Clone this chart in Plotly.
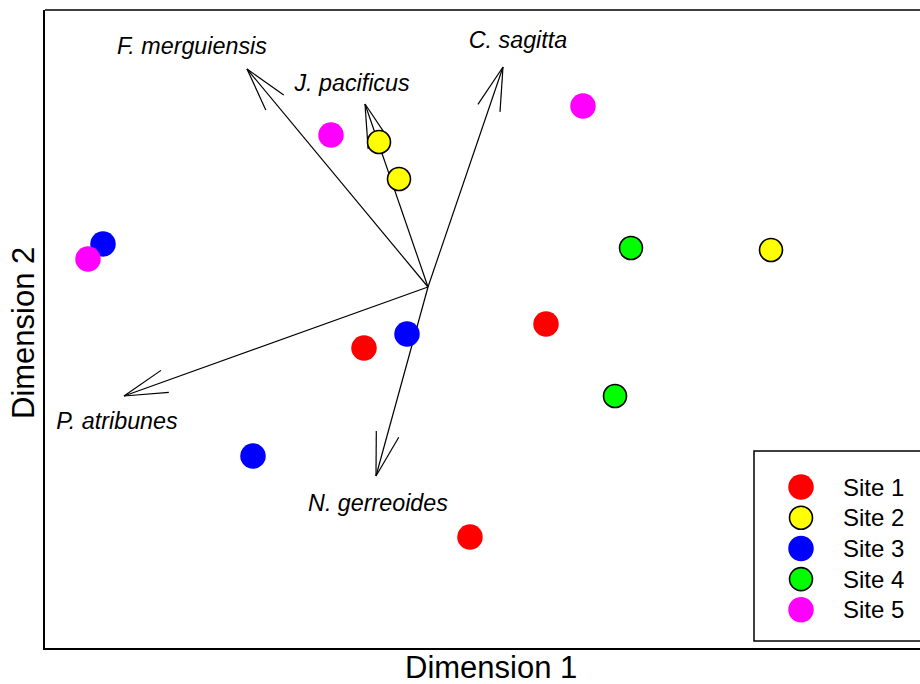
import numpy as np
import plotly.graph_objects as go

# ---- data (NMDS-like scores) ----
site_names = ["Site 1", "Site 2", "Site 3", "Site 4", "Site 5"]
site_colors = ["#ff0000", "#ffff00", "#0000ff", "#00ff00", "#ff00ff"]
site_outline = [False, True, False, True, False]

site1_x = [-0.32, 0.59, 0.21]
site1_y = [-0.305, -0.185, -1.25]
site2_x = [-0.245, -0.145, 1.715]
site2_y = [0.725, 0.54, 0.185]
site3_x = [-1.625, -0.105, -0.875]
site3_y = [0.215, -0.235, -0.845]
site4_x = [1.015, 0.935]
site4_y = [0.195, -0.545]
site5_x = [-0.485, -1.70, 0.775]
site5_y = [0.76, 0.14, 0.905]

species = ["F. merguiensis", "J. pacificus", "C. sagitta", "P. atribunes", "N. gerreoides"]
species_x = [-0.905, -0.315, 0.375, -1.52, -0.26]
species_y = [1.09, 0.915, 1.10, -0.545, -0.945]
label_x = [-1.18, -0.38, 0.45, -1.555, -0.25]
label_y = [1.195, 1.01, 1.225, -0.68, -1.09]

# ---- layout geometry ----
W, H = 920, 684
ML, MT, MB, MR = 45, 10, 36, 0
XR = [-1.915, 2.46]
YR = [-1.805, 1.385]

fig = go.Figure()

# arrows (shafts + open heads)
head_len = 0.225
head_ang = np.deg2rad(15)
ax, ay = [], []
for sx, sy in zip(species_x, species_y):
    ax += [0, sx, None]
    ay += [0, sy, None]
    ang = np.arctan2(-sy, -sx)
    for s in (1, -1):
        a = ang + s * head_ang
        ax += [sx, sx + head_len * np.cos(a), None]
        ay += [sy, sy + head_len * np.sin(a), None]
fig.add_trace(go.Scatter(x=ax, y=ay, mode="lines",
                         line=dict(color="black", width=1.2),
                         hoverinfo="skip", showlegend=False))

# species labels
fig.add_trace(go.Scatter(x=label_x, y=label_y, mode="text", text=species,
                         textfont=dict(family="Liberation Sans", size=23.3,
                                       color="black", style="italic"),
                         hoverinfo="skip", showlegend=False))

xs = [site1_x, site2_x, site3_x, site4_x, site5_x]
ys = [site1_y, site2_y, site3_y, site4_y, site5_y]

def marker_style(col, outline):
    if outline:
        return dict(size=23, color=col, line=dict(color="black", width=1.6))
    return dict(size=25.5, color=col, line=dict(width=0))

for name, col, ol, x, y in zip(site_names, site_colors, site_outline, xs, ys):
    fig.add_trace(go.Scatter(x=x, y=y, mode="markers", name=name,
                             marker=marker_style(col, ol), showlegend=False))

# manual legend (R-style box, cut off at the right edge)
leg_x0, leg_y0 = 1.63, -0.82
leg_bottom = -1.77
leg_mx = 1.865
leg_first = -1.0
leg_step = 0.1535
leg_tx = 2.065
fig.add_shape(type="rect", xref="x", yref="y", x0=leg_x0, x1=XR[1] + 0.5,
              y0=leg_bottom, y1=leg_y0, line=dict(color="black", width=1.5),
              fillcolor="white", layer="below")
for i, (name, col, ol) in enumerate(zip(site_names, site_colors, site_outline)):
    yy = leg_first - i * leg_step
    fig.add_trace(go.Scatter(x=[leg_mx], y=[yy], mode="markers",
                             marker=marker_style(col, ol),
                             hoverinfo="skip", showlegend=False))
    fig.add_annotation(x=leg_tx, y=yy, xref="x", yref="y", text=name,
                       showarrow=False, xanchor="left", yanchor="middle",
                       font=dict(family="Liberation Sans", size=24, color="black"))

# frame: left + bottom via axes, top via shape (right edge lies outside the image)
fig.add_shape(type="line", xref="paper", yref="paper", x0=0, x1=1, y0=1, y1=1,
              line=dict(color="black", width=1.5))

PW = W - ML - MR
PH = H - MT - MB
fig.add_annotation(xref="paper", yref="paper", x=(491 - ML) / PW,
                   y=-(667 - (H - MB)) / PH, text="Dimension 1",
                   showarrow=False, xanchor="center", yanchor="middle",
                   font=dict(family="Liberation Sans", size=31, color="black"))
fig.add_annotation(xref="paper", yref="paper", x=-(ML - 23) / PW,
                   y=1 - (333 - MT) / PH, text="Dimension 2",
                   textangle=-90, showarrow=False, xanchor="center", yanchor="middle",
                   font=dict(family="Liberation Sans", size=31, color="black"))

fig.update_xaxes(range=XR, showgrid=False, zeroline=False, showticklabels=False,
                 ticks="", showline=True, linecolor="black", linewidth=1.5, mirror=False)
fig.update_yaxes(range=YR, showgrid=False, zeroline=False, showticklabels=False,
                 ticks="", showline=True, linecolor="black", linewidth=1.5, mirror=False)

fig.update_layout(width=W, height=H, margin=dict(l=ML, r=MR, t=MT, b=MB),
                  plot_bgcolor="white", paper_bgcolor="white", showlegend=False)

fig.write_html("out.html", config={"displayModeBar": False},
               post_script="document.body.style.margin='0';document.body.style.overflow='hidden';")
